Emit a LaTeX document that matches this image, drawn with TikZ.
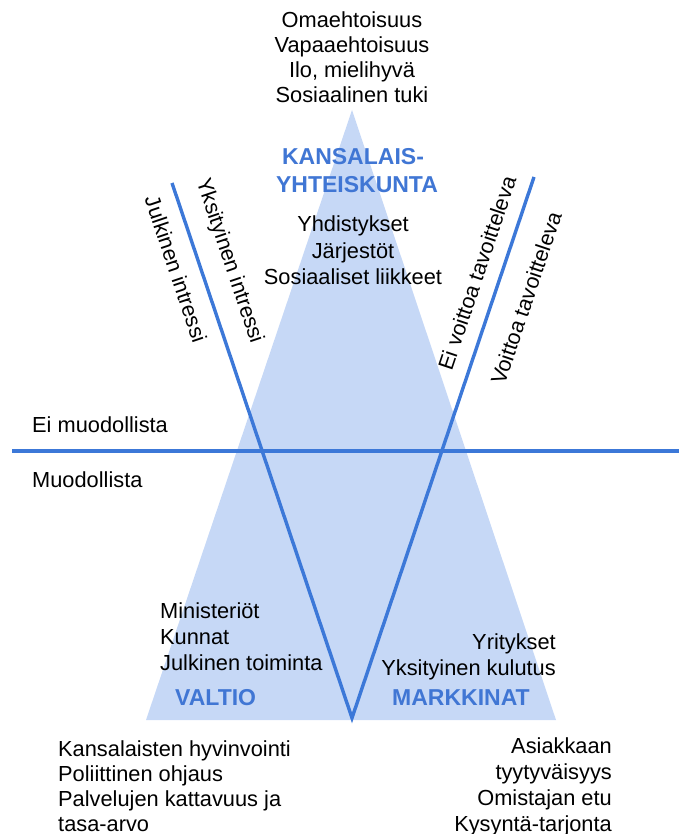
\documentclass[tikz,border=0pt]{standalone}
\usepackage{fontspec}
\setmainfont{Liberation Sans}
\definecolor{sectorfill}{RGB}{198,216,246}
\definecolor{axisblue}{RGB}{60,120,216}
\definecolor{titleblue}{RGB}{64,118,212}

\begin{document}
\begin{tikzpicture}[x=1pt,y=-1pt,
  txt/.style={font=\fontsize{21.8}{25}\selectfont, inner sep=0pt, anchor=base},
  txtl/.style={txt, anchor=base west},
  txtr/.style={txt, anchor=base east},
  ttl/.style={font=\fontsize{23}{28}\selectfont\bfseries, text=titleblue, inner sep=0pt, anchor=base},
  axis/.style={draw=axisblue, line width=3.4pt},
  slant/.style={font=\fontsize{21.5}{25}\selectfont, inner sep=0pt}]
\useasboundingbox (0,0) rectangle (679,834);

% the shaded sector triangle
\coordinate (apex) at (352,110);
\coordinate (baseL) at (146,720);
\coordinate (baseR) at (556,720);
\fill[sectorfill] (apex) -- (baseR) -- (baseL) -- cycle;

% formal / informal divider and the V of the sector borders
\coordinate (hL) at (12,451);
\coordinate (hR) at (679,451);
\coordinate (vL) at (172,183);
\coordinate (vR) at (534,177);
\coordinate (vB) at (352,718);
\draw[axis] (hL) -- (hR);
\draw[axis, line join=miter] (vL) -- (vB) -- (vR);

% civil society
\foreach \t [count=\i] in {Omaehtoisuus, Vapaaehtoisuus, {Ilo, mielihyvä}, Sosiaalinen tuki}
  \node[txt] (top\i) at (352, 28+25*\i-25) {\t};
\node[ttl] (kans1) at (353,165) {KANSALAIS-};
\node[ttl] (kans2) at (357,193) {YHTEISKUNTA};
\foreach \t [count=\i] in {Yhdistykset, Järjestöt, Sosiaaliset liikkeet}
  \node[txt] (org\i) at (353, 232+26*\i-26) {\t};

% labels along the V
\node[slant, rotate=-71.4] (julk) at (176,269) {Julkinen intressi};
\node[slant, rotate=-71.4] (yks) at (229,261) {Yksityinen intressi};
\node[slant, rotate=71.4] (eivoitto) at (477,273) {Ei voittoa tavoitteleva};
\node[slant, rotate=71.4] (voitto) at (526,298) {Voittoa tavoitteleva};

% divider labels
\node[txtl] (eimuod) at (32,432) {Ei muodollista};
\node[txtl] (muod) at (32,487) {Muodollista};

% state
\foreach \t [count=\i] in {Ministeriöt, Kunnat, Julkinen toiminta}
  \node[txtl] (val\i) at (160, 618+26*\i-26) {\t};
\node[ttl, anchor=base west] (valtio) at (175,705) {VALTIO};

% markets
\node[txtr] (mark1) at (556,649) {Yritykset};
\node[txtr] (mark2) at (556,675) {Yksityinen kulutus};
\node[ttl] (markkinat) at (461,705) {MARKKINAT};

% values below the base
\foreach \t [count=\i] in {Kansalaisten hyvinvointi, Poliittinen ohjaus, Palvelujen kattavuus ja, tasa-arvo}
  \node[txtl] (arvoL\i) at (58, 756+25*\i-25) {\t};
\foreach \t [count=\i] in {Asiakkaan, tyytyväisyys, Omistajan etu, Kysyntä-tarjonta}
  \node[txtr] (arvoR\i) at (612, 753+26*\i-26) {\t};
\end{tikzpicture}
\end{document}
